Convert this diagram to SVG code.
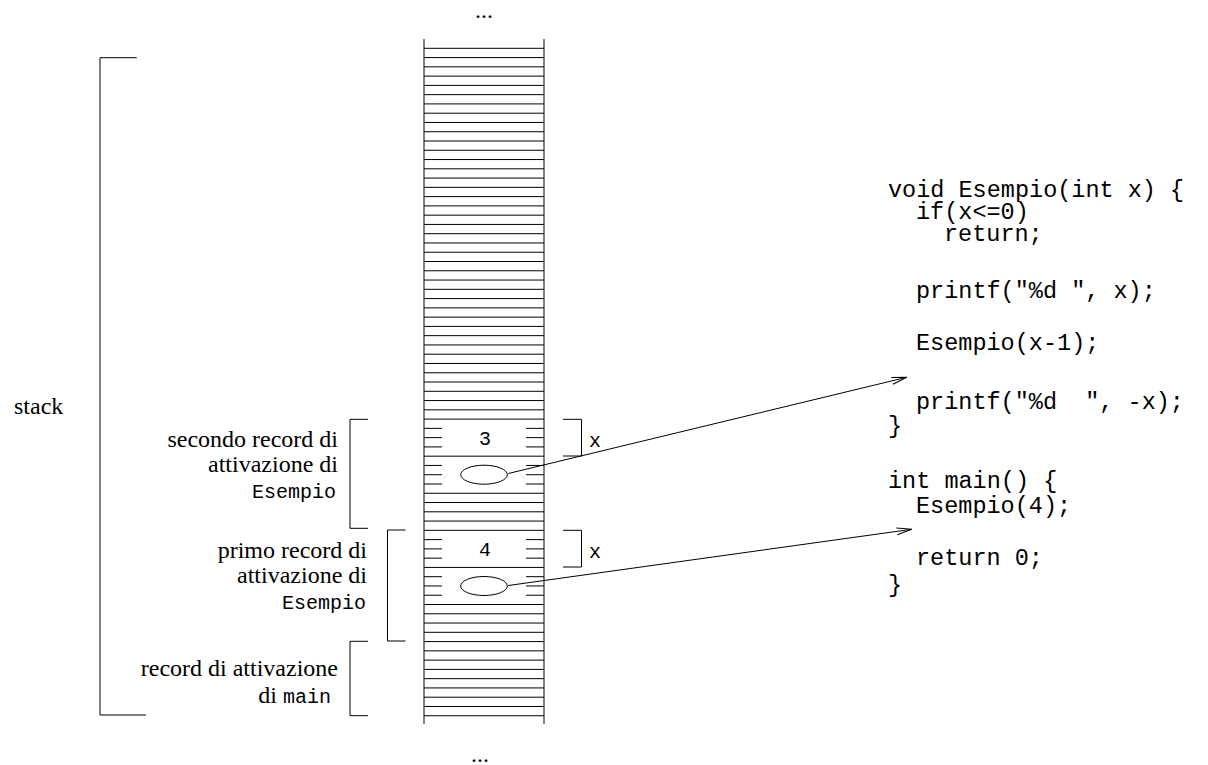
<svg xmlns="http://www.w3.org/2000/svg" width="1208" height="765" viewBox="0 0 1208 765">
<style>
.ln{stroke:#000;stroke-width:1;fill:none}
.serif{font-family:"Liberation Serif","Times New Roman",serif;font-size:24px;fill:#000}
.mono{font-family:"Liberation Mono","Courier New",monospace;font-size:20px;fill:#000}
.code{font-family:"Liberation Mono","Courier New",monospace;font-size:23.5px;fill:#000;white-space:pre}
.end{text-anchor:end}
.mid{text-anchor:middle}
</style>
<defs>
<marker id="arr" markerWidth="16" markerHeight="10" refX="15" refY="4" orient="auto" markerUnits="userSpaceOnUse">
<path d="M0,0.5 L15,4 L0,7.5" fill="none" stroke="#000" stroke-width="1"/>
</marker>
</defs>
<g id="dots-top"><text class="serif mid" x="484" y="18">...</text></g>
<g id="dots-bottom"><text class="serif mid" x="480" y="762">...</text></g>
<g id="stack-column">
<path class="ln" d="M424,39 V724 M544,39 V724"/>
<path class="ln" d="M424,48.3H544M424,57.57H544M424,66.84H544M424,76.11H544M424,85.38H544M424,94.65H544M424,103.92H544M424,113.19H544M424,122.46H544M424,131.73H544M424,141H544M424,150.27H544M424,159.54H544M424,168.81H544M424,178.08H544M424,187.35H544M424,196.62H544M424,205.89H544M424,215.16H544M424,224.43H544M424,233.7H544M424,242.97H544M424,252.24H544M424,261.51H544M424,270.78H544M424,280.05H544M424,289.32H544M424,298.59H544M424,307.86H544M424,317.13H544M424,326.4H544M424,335.67H544M424,344.94H544M424,354.21H544M424,363.48H544M424,372.75H544M424,382.02H544M424,391.29H544M424,400.56H544M424,409.83H544M424,419.1H544M424,456.18H544M424,493.26H544M424,502.53H544M424,511.8H544M424,521.07H544M424,530.34H544M424,567.42H544M424,604.5H544M424,613.77H544M424,623.04H544M424,632.31H544M424,641.58H544M424,650.85H544M424,660.12H544M424,669.39H544M424,678.66H544M424,687.93H544M424,697.2H544M424,706.47H544M424,715.74H544"/>
<path class="ln" d="M424,428.37H442M526,428.37H544M424,437.64H442M526,437.64H544M424,446.91H442M526,446.91H544M424,465.45H442M526,465.45H544M424,474.72H442M526,474.72H544M424,483.99H442M526,483.99H544M424,539.61H442M526,539.61H544M424,548.88H442M526,548.88H544M424,558.15H442M526,558.15H544M424,576.69H442M526,576.69H544M424,585.96H442M526,585.96H544M424,595.23H442M526,595.23H544"/>
</g>
<g id="record2">
<text class="mono mid" x="485" y="445">3</text>
<ellipse class="ln" cx="484" cy="474.7" rx="23.3" ry="9.5"/>
<path class="ln" d="M563,419.3H581.5V456H563"/>
<text class="mono" x="589" y="447">x</text>
</g>
<g id="record1">
<text class="mono mid" x="485" y="556">4</text>
<ellipse class="ln" cx="484" cy="586" rx="23.3" ry="9.5"/>
<path class="ln" d="M563,530.3H581.5V567H563"/>
<text class="mono" x="589" y="558">x</text>
</g>
<g id="stack-bracket">
<path class="ln" d="M136.7,57.7H100V715H146"/>
<text class="serif" x="14" y="414">stack</text>
</g>
<g id="label-secondo">
<path class="ln" d="M368,419.3H350V528.3H368"/>
<text class="serif end" x="338" y="447">secondo record di</text>
<text class="serif end" x="338" y="472">attivazione di</text>
<text class="mono end" x="336" y="498">Esempio</text>
</g>
<g id="label-primo">
<path class="ln" d="M405.5,530H387.5V641H405.5"/>
<text class="serif end" x="367" y="558">primo record di</text>
<text class="serif end" x="367" y="583">attivazione di</text>
<text class="mono end" x="366" y="609">Esempio</text>
</g>
<g id="label-main">
<path class="ln" d="M368,641.3H350V715.7H368"/>
<text class="serif end" x="338" y="676">record di attivazione</text>
<text class="end" x="331" y="703"><tspan class="serif">di </tspan><tspan class="mono">main</tspan></text>
</g>
<g id="code">
<text class="code" x="888" y="197">void Esempio(int x) {</text>
<text class="code" x="916" y="219">if(x&lt;=0)</text>
<text class="code" x="944" y="241">return;</text>
<text class="code" x="916" y="298">printf("%d ", x);</text>
<text class="code" x="916" y="350">Esempio(x-1);</text>
<text class="code" x="916" y="409" xml:space="preserve">printf("%d  ", -x);</text>
<text class="code" x="888" y="433">}</text>
<text class="code" x="888" y="488">int main() {</text>
<text class="code" x="916" y="513">Esempio(4);</text>
<text class="code" x="916" y="565">return 0;</text>
<text class="code" x="888" y="592">}</text>
</g>
<g id="connectors">
<line class="ln" x1="508.3" y1="473.5" x2="906.7" y2="377.3" marker-end="url(#arr)"/>
<line class="ln" x1="508.3" y1="585.5" x2="911.7" y2="529.3" marker-end="url(#arr)"/>
</g>
</svg>
